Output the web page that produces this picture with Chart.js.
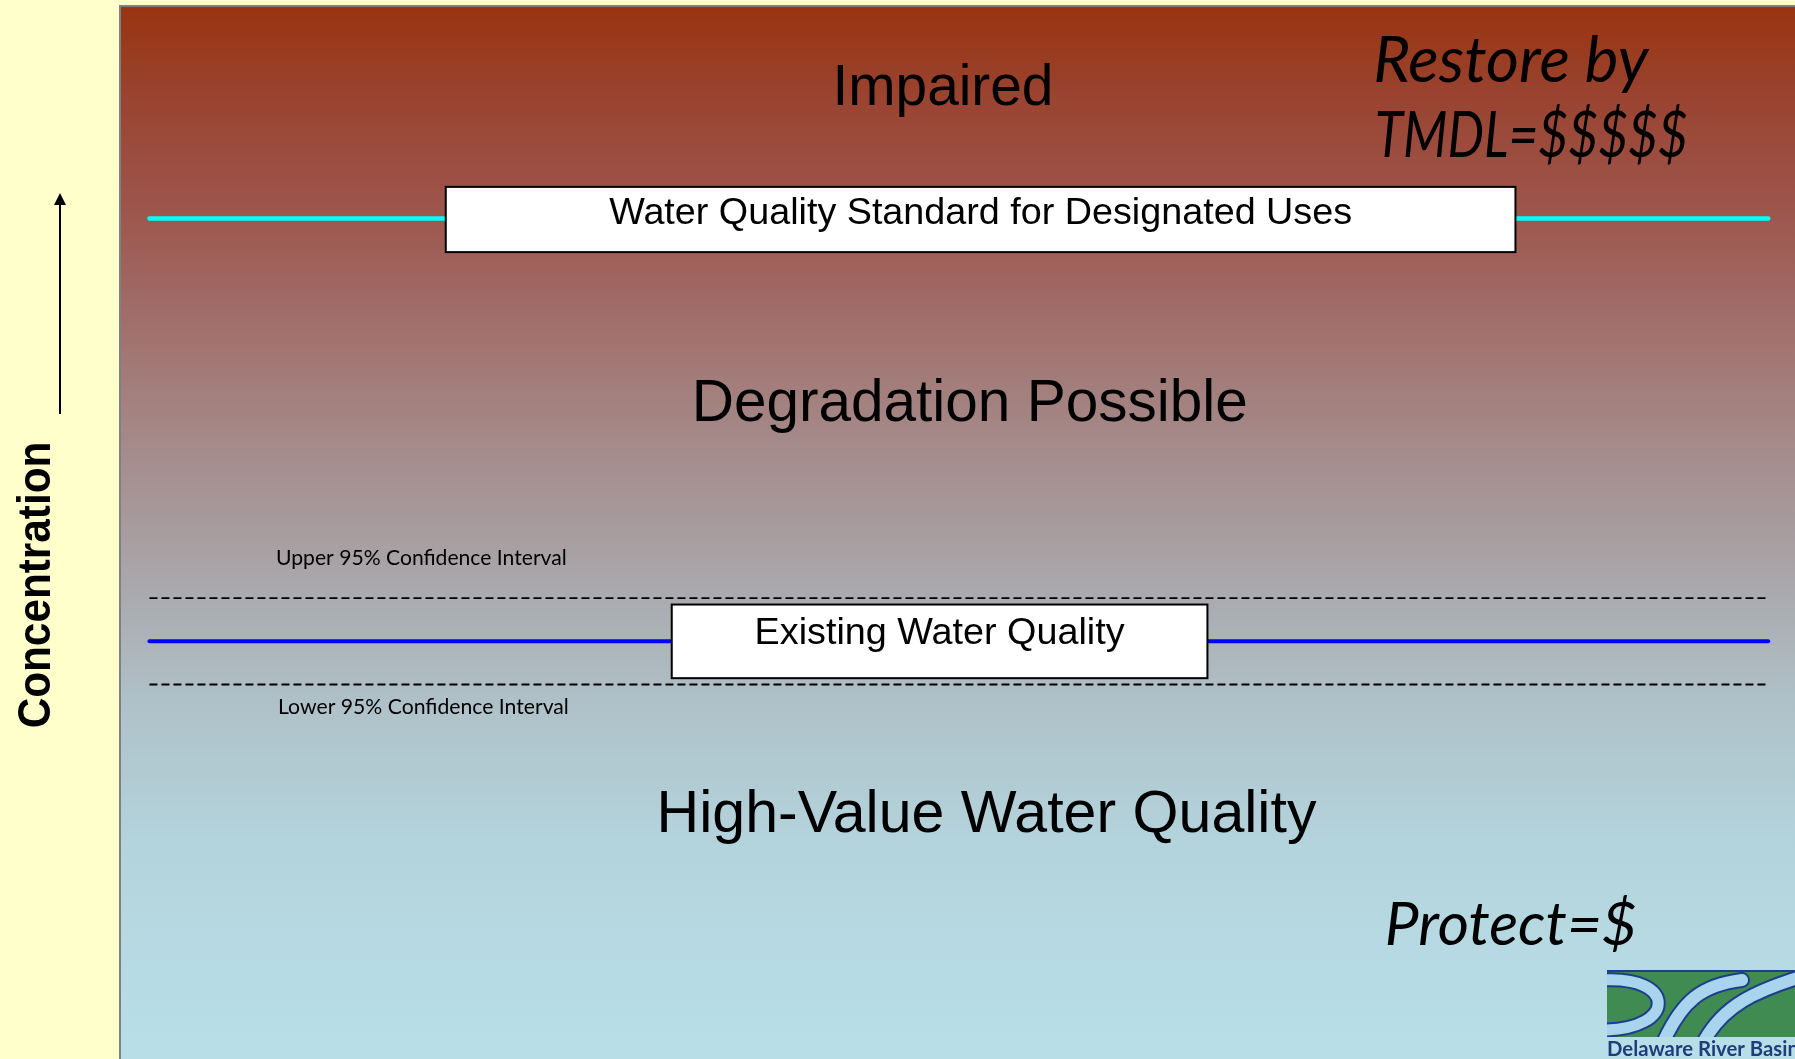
<!DOCTYPE html>
<html>
<head>
<meta charset="utf-8">
<script src="https://cdn.jsdelivr.net/npm/chart.js@4.4.1/dist/chart.umd.min.js"></script>
<style>
  body { margin: 0; background: #ffffcc; }
  #wrap { width: 1795px; height: 1059px; position: relative; }
</style>
</head>
<body>
<div id="wrap"><canvas id="myChart"></canvas></div>
<script>
// levels on a 0-100 "concentration" scale, x runs 0-100 across the panel
const lineNames = ['Water Quality Standard', 'Upper 95% Confidence Interval', 'Existing Water Quality', 'Lower 95% Confidence Interval']
const lineLevels = [79.9, 43.8, 39.7, 35.6]
const lineStart = 1.7
const lineEnd = 98.4

const boxLabels = ['Water Quality Standard for Designated Uses', 'Existing Water Quality']
const boxTops = [82.9, 43.2]
const boxBottoms = [76.7, 36.2]
const boxLefts = [19.4, 32.9]
const boxRights = [83.3, 64.9]

const zoneLabels = ['Impaired', 'Degradation Possible', 'High-Value Water Quality']
const zoneLevels = [90.7, 60.6, 21.6]

const ciLabels = ['Upper 95% Confidence Interval', 'Lower 95% Confidence Interval']
const ciLevels = [47.0, 32.8]

const costLabels = ['Restore by', 'TMDL=$$$$$', 'Protect=$']
const costLevels = [92.9, 85.7, 10.8]

const lineColors = ['#00ffff', '#000000', '#0000ff', '#000000']
const lineWidths = [4.5, 1.8, 4, 1.8]
const lineDash = [[], [8, 4], [], [8, 4]]

function fitFont(ctx, text, style, weight, family, width){
  ctx.font = `${style} ${weight} 100px ${family}`
  const w = ctx.measureText(text).width
  const size = 100 * width / w
  return `${style} ${weight} ${size}px ${family}`
}

const diagramPlugin = {
  id: 'diagram',
  beforeDraw(chart){
    const ctx = chart.ctx
    const a = chart.chartArea
    const g = ctx.createLinearGradient(0, a.top, 0, a.bottom)
    g.addColorStop(0, '#983410')
    g.addColorStop(0.09, '#9a4432')
    g.addColorStop(0.2, '#9d574e')
    g.addColorStop(0.28, '#a06a66')
    g.addColorStop(0.37, '#a3807e')
    g.addColorStop(0.47, '#a69698')
    g.addColorStop(0.56, '#aaaaae')
    g.addColorStop(0.66, '#afc1c8')
    g.addColorStop(0.8, '#b4d4dd')
    g.addColorStop(1, '#b8dfe8')
    ctx.save()
    ctx.fillStyle = g
    ctx.fillRect(a.left, a.top, a.right - a.left, a.bottom - a.top)
    ctx.strokeStyle = '#808080'
    ctx.lineWidth = 2
    ctx.beginPath()
    ctx.moveTo(a.left - 1, a.bottom)
    ctx.lineTo(a.left - 1, a.top - 1)
    ctx.lineTo(a.right, a.top - 1)
    ctx.stroke()
    ctx.restore()
  },
  afterDatasetsDraw(chart){
    const ctx = chart.ctx
    const xs = chart.scales.x
    const ys = chart.scales.y
    const sans = '"Liberation Sans", Arial, sans-serif'
    const cal = 'Lato, "Open Sans", sans-serif'
    ctx.save()
    ctx.fillStyle = '#000'
    ctx.textBaseline = 'alphabetic'

    // boxes
    const boxTextWidths = [743, 370]
    boxLabels.forEach((label, i) => {
      const l = xs.getPixelForValue(boxLefts[i])
      const r = xs.getPixelForValue(boxRights[i])
      const t = ys.getPixelForValue(boxTops[i])
      const b = ys.getPixelForValue(boxBottoms[i])
      ctx.fillStyle = '#fff'
      ctx.fillRect(l, t, r - l, b - t)
      ctx.strokeStyle = '#000'
      ctx.lineWidth = 2
      ctx.strokeRect(l, t, r - l, b - t)
      ctx.fillStyle = '#000'
      ctx.textAlign = 'center'
      ctx.font = fitFont(ctx, label, 'normal', 'normal', sans, boxTextWidths[i])
      ctx.fillText(label, (l + r) / 2, t + (i === 0 ? 37 : 39))
    })

    // zone labels
    const zoneWidths = [221, 556, 660]
    const zoneCenters = [49.1, 50.7, 51.7]
    zoneLabels.forEach((label, i) => {
      ctx.textAlign = 'center'
      ctx.font = fitFont(ctx, label, 'normal', 'normal', sans, zoneWidths[i])
      ctx.fillText(label, xs.getPixelForValue(zoneCenters[i]), ys.getPixelForValue(zoneLevels[i]))
    })

    // confidence interval labels
    const ciLeft = [9.26, 9.38]
    ciLabels.forEach((label, i) => {
      ctx.textAlign = 'left'
      ctx.font = fitFont(ctx, label, 'normal', 'normal', cal, 291)
      ctx.fillText(label, xs.getPixelForValue(ciLeft[i]), ys.getPixelForValue(ciLevels[i]))
    })

    // cost notes: same height for both "Restore" lines, squeezed to the width seen
    const costLeft = [74.8, 74.9, 75.5]
    const costWidths = [275, 313, 252]
    const restoreFont = fitFont(ctx, costLabels[0], 'italic', 'normal', cal, 275)
    const costFonts = [restoreFont, restoreFont, fitFont(ctx, costLabels[2], 'italic', 'normal', cal, 252)]
    costLabels.forEach((label, i) => {
      ctx.save()
      ctx.textAlign = 'left'
      ctx.font = costFonts[i]
      const k = costWidths[i] / ctx.measureText(label).width
      ctx.translate(xs.getPixelForValue(costLeft[i]), ys.getPixelForValue(costLevels[i]))
      ctx.scale(k, 1)
      ctx.fillText(label, 0, 0)
      ctx.restore()
    })
    ctx.restore()
  },
  afterDraw(chart){
    const ctx = chart.ctx
    ctx.save()
    // y axis title + arrow
    ctx.translate(50, 585)
    ctx.rotate(-Math.PI / 2)
    ctx.scale(0.9, 1)
    ctx.font = 'bold 47px "Liberation Sans", Arial, sans-serif'
    ctx.textAlign = 'center'
    ctx.fillStyle = '#000'
    ctx.fillText('Concentration', 0, 0)
    ctx.restore()

    ctx.save()
    ctx.strokeStyle = '#000'
    ctx.lineWidth = 2
    ctx.beginPath()
    ctx.moveTo(60, 414)
    ctx.lineTo(60, 202)
    ctx.stroke()
    ctx.beginPath()
    ctx.moveTo(60, 193)
    ctx.lineTo(66, 205)
    ctx.lineTo(54, 205)
    ctx.closePath()
    ctx.fillStyle = '#000'
    ctx.fill()
    ctx.restore()

    // DRBC logo, bottom right
    ctx.save()
    const lx = 1607, ly = 972
    ctx.fillStyle = '#1d3f8a'
    ctx.fillRect(lx, ly - 2, 1795 - lx, 2)
    ctx.fillStyle = '#3f8b52'
    ctx.fillRect(lx, ly, 1795 - lx, 65)
    ctx.beginPath()
    ctx.rect(lx, ly, 1795 - lx, 65)
    ctx.clip()
    const river = (pts, w) => {
      ctx.lineCap = 'round'
      ctx.beginPath()
      ctx.moveTo(pts[0], pts[1])
      ctx.bezierCurveTo(pts[2], pts[3], pts[4], pts[5], pts[6], pts[7])
      ctx.strokeStyle = '#1d3f8a'
      ctx.lineWidth = w + 4
      ctx.stroke()
      ctx.strokeStyle = '#a8d4ee'
      ctx.lineWidth = w
      ctx.stroke()
    }
    river([lx - 5, 980, lx + 70, 975, lx + 70, 1030, lx - 5, 1030], 11)
    river([lx + 55, 1045, lx + 75, 1000, lx + 95, 985, lx + 135, 980], 12)
    river([lx + 95, 1045, lx + 115, 1005, lx + 150, 990, lx + 200, 975], 12)
    ctx.restore()

    ctx.save()
    ctx.fillStyle = '#1f3d7a'
    ctx.textAlign = 'left'
    ctx.font = fitFont(ctx, 'Delaware River Basin', 'normal', 'bold', 'Lato, sans-serif', 192)
    ctx.fillText('Delaware River Basin', lx, 1056)
    ctx.restore()
  }
}

const datasets = lineNames.map((name, i) => ({
  label: name,
  data: [{x: lineStart, y: lineLevels[i]}, {x: lineEnd, y: lineLevels[i]}],
  borderColor: lineColors[i],
  borderWidth: lineWidths[i],
  borderDash: lineDash[i],
  borderCapStyle: lineDash[i].length ? 'butt' : 'round',
  pointRadius: 0,
  fill: false
}))

const ctx = document.getElementById('myChart').getContext('2d')
const chart = new Chart(ctx, {
  type: 'line',
  data: { datasets: datasets },
  options: {
    responsive: true,
    maintainAspectRatio: false,
    animation: false,
    layout: { padding: { left: 121, top: 7, right: 0, bottom: 0 } },
    plugins: { legend: { display: false }, tooltip: { enabled: false } },
    scales: {
      x: { type: 'linear', min: 0, max: 100, display: false },
      y: { type: 'linear', min: 0, max: 100, display: false }
    }
  },
  plugins: [diagramPlugin]
})
</script>
</body>
</html>
